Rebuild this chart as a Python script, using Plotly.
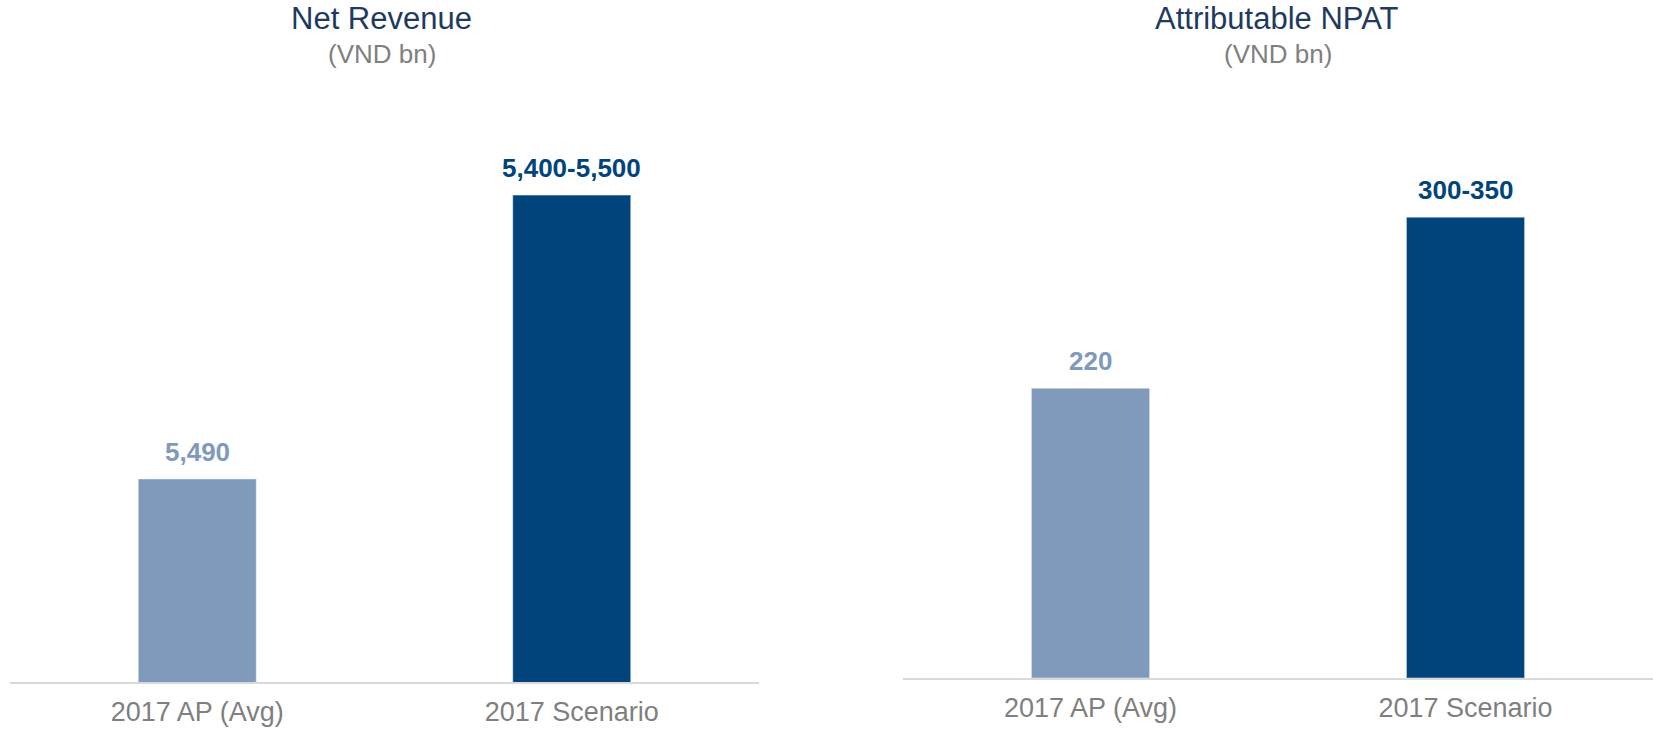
import plotly.graph_objects as go

# Data
categories = ["2017 AP (Avg)", "2017 Scenario"]
revenue_values = [5490, 5500]
revenue_labels = ["5,490", "5,400-5,500"]
npat_values = [220, 350]
npat_labels = ["220", "300-350"]
bar_colors = ["#7f9aba", "#00447b"]

W, H = 1653, 729
FONT = "Liberation Sans, Arial, sans-serif"


def py(px):
    """Convert a pixel row (from the top) to paper coordinates."""
    return 1 - px / H


fig = go.Figure()

fig.add_trace(go.Bar(
    x=categories, y=revenue_values, marker_color=bar_colors,
    xaxis="x", yaxis="y", hoverinfo="skip", showlegend=False,
))
fig.add_trace(go.Bar(
    x=categories, y=npat_values, marker_color=bar_colors,
    xaxis="x2", yaxis="y2", hoverinfo="skip", showlegend=False,
))

# Value labels above each bar
annotations = []
for xa, ya, vals, labels in (("x", "y", revenue_values, revenue_labels),
                             ("x2", "y2", npat_values, npat_labels)):
    for cat, v, lab, col in zip(categories, vals, labels, bar_colors):
        annotations.append(dict(
            x=cat, y=v, xref=xa, yref=ya, text=f"<b>{lab}</b>",
            showarrow=False, yanchor="bottom", yshift=10,
            font=dict(family=FONT, size=26, color=col),
        ))

# Panel titles
titles = [("Net Revenue", 381), ("Attributable NPAT", 1277)]
for title, cx in titles:
    annotations.append(dict(
        x=cx / W, y=py(19), xref="paper", yref="paper", text=title,
        showarrow=False, xanchor="center", yanchor="middle",
        font=dict(family=FONT, size=31, color="#1f3a60"),
    ))
    annotations.append(dict(
        x=(cx + 1) / W, y=py(54), xref="paper", yref="paper", text="(VND bn)",
        showarrow=False, xanchor="center", yanchor="middle",
        font=dict(family=FONT, size=26, color="#808080"),
    ))

xaxis_common = dict(
    type="category", showline=True, linecolor="#d9d9d9", linewidth=2,
    showgrid=False, zeroline=False, ticks="outside", ticklen=5,
    tickcolor="rgba(0,0,0,0)", automargin=False,
    tickfont=dict(family=FONT, size=27, color="#7f7f7f"),
    range=[-0.5, 1.5], fixedrange=True,
)
yaxis_common = dict(
    showgrid=False, zeroline=False, showticklabels=False, showline=False,
    ticks="", automargin=False, fixedrange=True,
)

fig.update_layout(
    width=W, height=H,
    margin=dict(l=0, r=0, t=0, b=0),
    paper_bgcolor="white", plot_bgcolor="white",
    bargap=0.685,
    xaxis=dict(**xaxis_common, domain=[10 / W, 759 / W], anchor="y"),
    yaxis=dict(**yaxis_common, domain=[py(682), py(100)], anchor="x",
               range=[5482.85, 5503.35]),
    xaxis2=dict(**xaxis_common, domain=[903 / W, 1.0], anchor="y2"),
    yaxis2=dict(**yaxis_common, domain=[py(678), py(100)], anchor="x2",
                range=[0, 439]),
    annotations=annotations,
)

fig.write_html("out.html", config={"displayModeBar": False})
